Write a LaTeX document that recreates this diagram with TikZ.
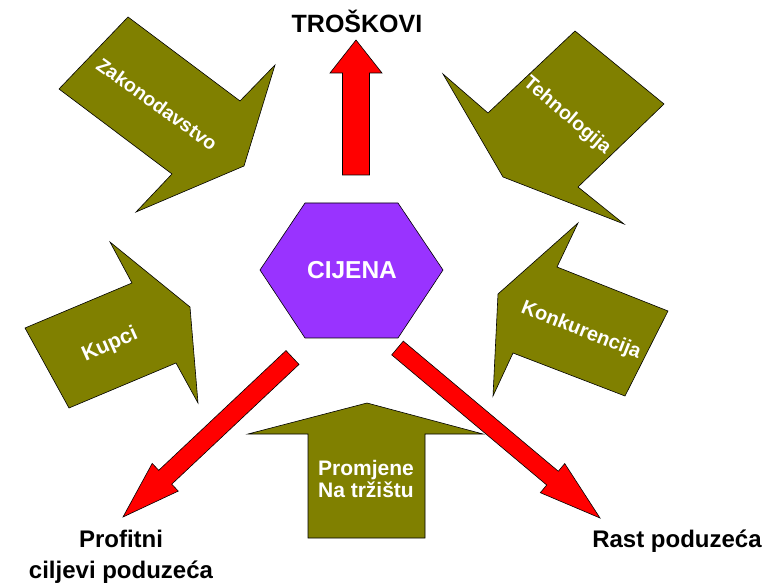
\documentclass[tikz,border=0pt]{standalone}
\usepackage{fontspec}
\setmainfont{Liberation Sans}
\usepackage{tikz}
\usetikzlibrary{calc}
\usepackage{xcolor}

\definecolor{forceolive}{HTML}{808000}
\definecolor{hexpurple}{HTML}{9933FF}

\tikzset{
  force/.style={fill=forceolive, draw=black, line width=0.6pt},
  effect/.style={fill=red, draw=black, line width=0.6pt},
  pricehex/.style={fill=hexpurple, draw=black, line width=0.6pt},
  forcetext/.style={text=white, inner sep=0pt, font=\bfseries\fontsize{19.5}{21}\selectfont},
  goaltext/.style={inner sep=0pt, align=center, font=\bfseries\fontsize{24}{31}\selectfont},
}

% fat arrow: [style]{tail}{tip}{half shaft}{half head}{head length}
\newcommand{\fatarrow}[6][]{%
  \path ($(#3)!#6!(#2)$) coordinate (fa-base);
  \draw[#1] ($(#2)!#4!90:(#3)$) -- ($(fa-base)!#4!90:(#3)$) -- ($(fa-base)!#5!90:(#3)$)
    -- (#3) -- ($(fa-base)!#5!-90:(#3)$) -- ($(fa-base)!#4!-90:(#3)$)
    -- ($(#2)!#4!-90:(#3)$) -- cycle;
}

\begin{document}
\begin{tikzpicture}[x=1pt, y=-1pt]
        \useasboundingbox (0,0) rectangle (766,585);

        % Forces pushing on the price
        \draw[force] (128,17) -- (240,101) -- (275,65) -- (244,166) -- (136,212) -- (172,174) -- (59,89) -- cycle;
        \node[forcetext, rotate=-35.6] (law) at (157,104) {Zakonodavstvo};

        \draw[force] (575,31) -- (664,104) -- (578,187) -- (624,224) -- (503,177) -- (443,74) -- (488,113) -- cycle;
        \node[forcetext, rotate=-40.3] (tech) at (567,116) {Tehnologija};

        \draw[force] (25,328) -- (132,283) -- (110,242) -- (190,307) -- (198,403) -- (176,363) -- (69,408) -- cycle;
        \node[forcetext, rotate=24, font=\bfseries\fontsize{21}{23}\selectfont] (buyers) at (110,345) {Kupci};

        \draw[force] (668,311) -- (557,267) -- (578,223) -- (498,294) -- (493,396) -- (513,353) -- (625,396) -- cycle;
        \node[forcetext, rotate=-21.5, font=\bfseries\fontsize{20}{22}\selectfont] (rivals) at (581,331) {Konkurencija};

        \draw[force] (367,403) -- (483,434) -- (425,434) -- (425,538) -- (308,538) -- (308,434) -- (248,434) -- cycle;
        \node[forcetext, align=center, anchor=base, font=\bfseries\fontsize{21}{21.5}\selectfont] (market) at (366,497) {Promjene\\Na tržištu};

        % The price in the middle
        \draw[pricehex] (305,203) -- (398,203) -- (443,270) -- (398,338) -- (305,338) -- (260,270) -- cycle;
        \node[text=white, anchor=base, font=\bfseries\fontsize{24.5}{26}\selectfont] (price) at (352,279) {CIJENA};

        % What the price drives
        \node[goaltext, anchor=base, font=\bfseries\fontsize{25}{27}\selectfont] (costs) at (357,33) {TROŠKOVI};
        \node[goaltext, anchor=base] (profit) at (121,578) {Profitni\\ciljevi poduzeća};
        \node[goaltext, anchor=base] (growth) at (677,547) {Rast poduzeća};

        \coordinate (costs-tail) at (356,175);
        \coordinate (costs-tip) at (356,40);
        \coordinate (profit-tail) at (292.5,357.5);
        \coordinate (profit-tip) at (123,517);
        \coordinate (growth-tail) at (397.5,348);
        \coordinate (growth-tip) at (600,518);

        \fatarrow[effect]{costs-tail}{costs-tip}{13.5pt}{26pt}{33pt}
        \fatarrow[effect]{profit-tail}{profit-tip}{9.5pt}{19pt}{58pt}
        \fatarrow[effect]{growth-tail}{growth-tip}{9pt}{19pt}{62pt}

    \end{tikzpicture}
\end{document}
